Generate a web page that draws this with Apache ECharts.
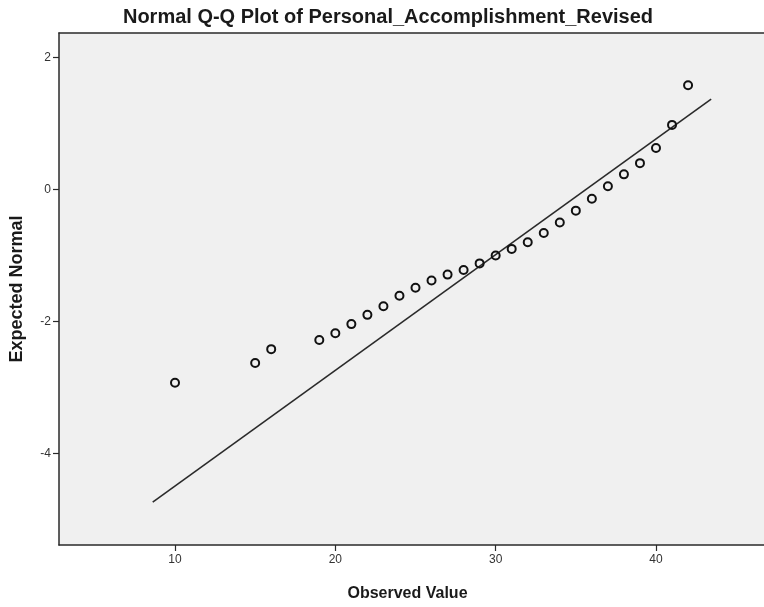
<!DOCTYPE html>
<html>
<head>
<meta charset="utf-8">
<script src="https://cdn.jsdelivr.net/npm/echarts@6/dist/echarts.min.js"></script>
<style>
html,body{margin:0;padding:0;background:#fff;overflow:hidden;}
#c{width:772px;height:607px;}
</style>
</head>
<body>
<div id="c"></div>
<script>
// Data
const observedValues = [10, 15, 16, 19, 20, 21, 22, 23, 24, 25, 26, 27, 28, 29, 30, 31, 32, 33, 34, 35, 36, 37, 38, 39, 40, 41, 42];
const expectedNormal = [-2.93, -2.63, -2.42, -2.28, -2.18, -2.04, -1.90, -1.77, -1.61, -1.49, -1.38, -1.29, -1.22, -1.12, -1.00, -0.90, -0.80, -0.66, -0.50, -0.32, -0.14, 0.05, 0.23, 0.40, 0.63, 0.98, 1.58];
const refLineX = [8.61, 43.44];
const refLineY = [-4.74, 1.37];
const xTicks = [10, 20, 30, 40];
const yTicks = [-4, -2, 0, 2];

const points = observedValues.map((v, i) => [v, expectedNormal[i]]);
const linePts = refLineX.map((v, i) => [v, refLineY[i]]);

const FONT = '"Liberation Sans", Arial, sans-serif';
const X_MIN = 2.765, X_MAX = 47.235;
const chart = echarts.init(document.getElementById('c'), null, {renderer: 'canvas'});
chart.setOption({
  animation: false,
  backgroundColor: '#ffffff',
  title: {
    text: 'Normal Q-Q Plot of Personal_Accomplishment_Revised',
    left: 383, textAlign: 'center',
    top: 2,
    textStyle: {fontFamily: FONT, fontSize: 20, fontWeight: 'bold', color: '#1a1a1a'}
  },
  grid: {
    left: 59, top: 33, right: 0, bottom: 60,
    show: true, backgroundColor: '#f0f0f0', borderWidth: 0
  },
  xAxis: [{
    type: 'value',
    min: X_MIN, max: X_MAX,
    name: 'Observed Value',
    nameLocation: 'middle',
    nameGap: 41,
    nameTextStyle: {fontFamily: FONT, fontSize: 16, fontWeight: 'bold', color: '#1a1a1a', padding: [0, 16, 0, 0]},
    splitLine: {show: false},
    axisLine: {show: true, onZero: false, lineStyle: {color: '#2a2a2a', width: 1.5}},
    axisTick: {show: true, length: 6, customValues: xTicks, lineStyle: {color: '#2a2a2a', width: 1.2}},
    axisLabel: {customValues: xTicks, fontFamily: FONT, fontSize: 12, color: '#333', margin: 9}
  }, {
    type: 'value',
    position: 'top',
    min: X_MIN, max: X_MAX,
    splitLine: {show: false},
    axisLine: {show: true, onZero: false, lineStyle: {color: '#2a2a2a', width: 1.5}},
    axisTick: {show: false},
    axisLabel: {show: false}
  }],
  yAxis: {
    type: 'value',
    min: -5.389, max: 2.373,
    name: 'Expected Normal',
    nameLocation: 'middle',
    nameGap: 33,
    nameTextStyle: {fontFamily: FONT, fontSize: 18, fontWeight: 'bold', color: '#1a1a1a'},
    splitLine: {show: false},
    axisLine: {show: true, onZero: false, lineStyle: {color: '#2a2a2a', width: 1.5}},
    axisTick: {show: true, length: 6, customValues: yTicks, lineStyle: {color: '#2a2a2a', width: 1.2}},
    axisLabel: {customValues: yTicks, fontFamily: FONT, fontSize: 12, color: '#333', margin: 8}
  },
  series: [
    {
      type: 'line',
      data: linePts,
      symbol: 'none',
      lineStyle: {color: '#2a2a2a', width: 1.6},
      z: 2
    },
    {
      type: 'scatter',
      data: points,
      symbol: 'circle',
      symbolSize: 8,
      itemStyle: {color: 'rgba(0,0,0,0)', borderColor: '#111', borderWidth: 2, opacity: 1},
      z: 3
    }
  ]
});
</script>
</body>
</html>
